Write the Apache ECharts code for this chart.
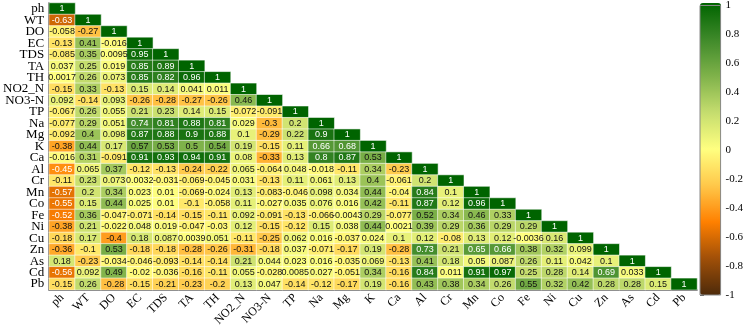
<!DOCTYPE html>
<html>
<head>
<meta charset="utf-8">
<script src="https://cdn.jsdelivr.net/npm/echarts@6/dist/echarts.min.js"></script>
<style>
  html, body { margin: 0; padding: 0; background: #fff; }
  #main { width: 746px; height: 329px; }
</style>
</head>
<body>
<div id="main"></div>
<script>
var vars = ['ph', 'WT', 'DO', 'EC', 'TDS', 'TA', 'TH', 'NO2_N', 'NO3-N', 'TP', 'Na', 'Mg', 'K', 'Ca',
  'Al', 'Cr', 'Mn', 'Co', 'Fe', 'Ni', 'Cu', 'Zn', 'As', 'Cd', 'Pb'];

// lower triangle, row by row (row i has i+1 values)
var rows = [
  [1],
  [-0.63, 1],
  [-0.058, -0.27, 1],
  [-0.13, 0.41, -0.016, 1],
  [-0.085, 0.35, 0.0095, 0.95, 1],
  [0.037, 0.25, 0.019, 0.85, 0.89, 1],
  [0.0017, 0.26, 0.073, 0.85, 0.82, 0.96, 1],
  [-0.15, 0.33, -0.13, 0.15, 0.14, 0.041, 0.011, 1],
  [0.092, -0.14, 0.093, -0.26, -0.28, -0.27, -0.26, 0.46, 1],
  [-0.067, 0.26, 0.055, 0.21, 0.23, 0.14, 0.15, -0.072, -0.091, 1],
  [-0.077, 0.29, 0.051, 0.74, 0.81, 0.88, 0.81, 0.029, -0.3, 0.2, 1],
  [-0.092, 0.4, 0.098, 0.87, 0.88, 0.9, 0.88, 0.1, -0.29, 0.22, 0.9, 1],
  [-0.38, 0.44, 0.17, 0.57, 0.53, 0.5, 0.54, 0.19, -0.15, 0.11, 0.66, 0.68, 1],
  [-0.016, 0.31, -0.091, 0.91, 0.93, 0.94, 0.91, 0.08, -0.33, 0.13, 0.8, 0.87, 0.53, 1],
  [-0.45, 0.065, 0.37, -0.12, -0.13, -0.24, -0.22, 0.065, -0.064, 0.048, -0.018, -0.11, 0.34, -0.23, 1],
  [-0.11, 0.23, 0.073, 0.0032, -0.031, -0.069, -0.045, 0.031, -0.13, 0.11, 0.061, 0.13, 0.4, -0.061, 0.2, 1],
  [-0.57, 0.2, 0.34, 0.023, 0.01, -0.069, -0.024, 0.13, -0.083, -0.046, 0.098, 0.034, 0.44, -0.04, 0.84, 0.1, 1],
  [-0.55, 0.15, 0.44, 0.025, 0.01, -0.1, -0.058, 0.11, -0.027, 0.035, 0.076, 0.016, 0.42, -0.11, 0.87, 0.12, 0.96, 1],
  [-0.52, 0.36, -0.047, -0.071, -0.14, -0.15, -0.11, 0.092, -0.091, -0.13, -0.066, -0.0043, 0.29, -0.077, 0.52, 0.34, 0.46, 0.33, 1],
  [-0.38, 0.21, -0.022, 0.048, 0.019, -0.047, -0.03, 0.12, -0.15, -0.12, 0.15, 0.038, 0.44, 0.0021, 0.39, 0.29, 0.36, 0.29, 0.29, 1],
  [-0.18, 0.17, -0.4, 0.18, 0.087, 0.0039, 0.051, -0.11, -0.25, 0.062, 0.016, -0.037, 0.024, 0.1, 0.12, -0.08, 0.13, 0.12, -0.0036, 0.16, 1],
  [-0.36, -0.1, 0.53, -0.18, -0.18, -0.28, -0.26, -0.31, -0.18, 0.037, -0.071, -0.17, 0.19, -0.28, 0.73, 0.21, 0.65, 0.66, 0.38, 0.32, 0.099, 1],
  [0.18, -0.23, -0.034, -0.046, -0.093, -0.14, -0.14, 0.21, 0.044, 0.023, 0.016, -0.035, 0.069, -0.13, 0.41, 0.18, 0.05, 0.087, 0.26, 0.11, 0.042, 0.1, 1],
  [-0.56, 0.092, 0.49, -0.02, -0.036, -0.16, -0.11, 0.055, -0.028, 0.0085, 0.027, -0.051, 0.34, -0.16, 0.84, 0.011, 0.91, 0.97, 0.25, 0.28, 0.14, 0.69, 0.033, 1],
  [-0.15, 0.26, -0.28, -0.15, -0.21, -0.23, -0.2, 0.13, 0.047, -0.14, -0.12, -0.17, 0.19, -0.16, 0.43, 0.38, 0.34, 0.26, 0.55, 0.32, 0.42, 0.28, 0.28, 0.15, 1]
];

var colorStops = ['#4d2a0a', '#a04f08', '#ff8000', '#ffc84a', '#ffff80', '#c5dd6e', '#7fb24a', '#3f8a2a', '#006400'];

var data = [];
rows.forEach(function (r, i) {
  r.forEach(function (v, j) {
    var white = v > 0.6 || v < -0.42;
    data.push({ value: [j, i, v], label: { color: white ? '#fff' : '#111' } });
  });
});

var chart = echarts.init(document.getElementById('main'));

var option = {
  animation: false,
  grid: [
    { left: 42, right: 49, top: 3, bottom: 32 },
    { left: 700, width: 21, top: 3, height: 292, show: true, borderColor: '#888', borderWidth: 1, backgroundColor: 'transparent', z: 10 }
  ],
  xAxis: [
    {
      type: 'category', data: vars, gridIndex: 0,
      axisLine: { lineStyle: { color: '#333', width: 1.5 } },
      axisTick: { show: false },
      splitLine: { show: false },
      axisLabel: { rotate: 45, interval: 0, margin: 6, color: '#000', fontFamily: 'Liberation Serif', fontSize: 12 }
    },
    { type: 'value', gridIndex: 1, show: false, min: 0, max: 1 }
  ],
  yAxis: [
    {
      type: 'category', data: vars, gridIndex: 0, inverse: true,
      axisLine: { lineStyle: { color: '#333', width: 1.5 } },
      axisTick: { show: false },
      splitLine: { show: false },
      axisLabel: { interval: 0, margin: 5, color: '#000', fontFamily: 'Liberation Serif', fontSize: 13 }
    },
    {
      type: 'value', gridIndex: 1, position: 'right', min: -1, max: 1, interval: 0.2,
      axisLine: { show: false },
      axisTick: { show: true, length: 4, lineStyle: { color: '#555' } },
      splitLine: { show: false },
      axisLabel: {
        margin: 5, color: '#000', fontFamily: 'Liberation Serif', fontSize: 11,
        formatter: function (v) { return String(Math.round(v * 10) / 10); }
      }
    }
  ],
  visualMap: {
    type: 'continuous',
    min: -1, max: 1,
    seriesIndex: 0,
    calculable: false,
    orient: 'vertical',
    left: 700, top: 3,
    itemWidth: 21, itemHeight: 292,
    padding: 0,
    text: null,
    showLabel: false,
    inRange: { color: colorStops }
  },
  series: [
    {
      type: 'heatmap',
      xAxisIndex: 0, yAxisIndex: 0,
      data: data,
      itemStyle: { borderColor: 'rgba(255,255,255,0.55)', borderWidth: 1 },
      label: {
        show: true, fontSize: 9, fontFamily: 'Liberation Sans',
        formatter: function (p) { return String(p.value[2]); }
      }
    }
  ]
};

chart.setOption(option);
</script>
</body>
</html>
